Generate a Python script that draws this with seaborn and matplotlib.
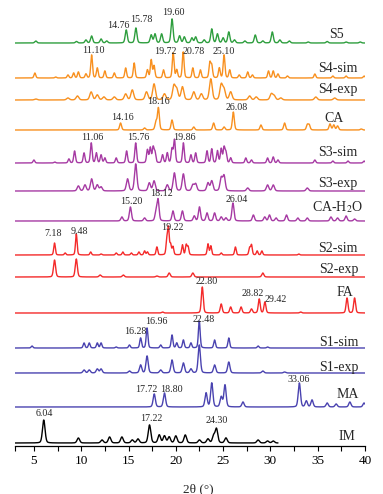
import numpy as np
import pandas as pd
import matplotlib
matplotlib.use("Agg")
import matplotlib.pyplot as plt
import seaborn as sns
from matplotlib.ticker import FixedLocator

# -----------------------------
# Peak lists: 2-theta (deg) and height
# -----------------------------
s5_pos = [5.2, 9.5, 10.5, 11.1, 12.1, 12.7, 14.76, 15.78, 17.4, 17.8, 18.5, 19.60, 20.4, 20.9, 21.7, 22.1,
          23.0, 23.8, 24.4, 25.0, 25.6, 26.2, 27.3, 28.4, 29.2, 30.2, 31.0, 32.0, 34.0, 36.0, 38.0, 39.5]
s5_int = [2, 1.5, 3, 7, 4, 2, 13, 15, 8, 9, 9, 24, 7, 6, 5, 6, 3, 14, 9, 5, 11, 3, 2, 8, 2, 11, 3, 2, 1, 1.5, 1, 1]

s4sim_pos = [5.1, 7.3, 8.6, 9.2, 9.7, 10.5, 11.10, 11.7, 12.5, 13.5, 14.7, 15.6, 17.0, 17.4, 17.7, 18.7, 19.72,
             20.1, 20.78, 21.8, 22.6, 23.6, 23.8, 24.6, 25.10, 25.7, 26.7, 27.6, 28.1, 29.8, 30.3, 30.8, 31.8,
             34.7, 36.6, 38.0, 39.9]
s4sim_int = [5, 1, 3, 5, 6, 4, 23, 10, 7, 5, 10, 15, 8, 18, 12, 8, 25, 8, 26, 10, 8, 15, 12, 10, 23, 8, 3, 6, 3,
             7, 7, 4, 2, 4, 2, 2, 2]

s4exp_pos = [5.2, 8.6, 9.6, 11.05, 11.7, 12.4, 13.5, 14.7, 15.4, 16.9, 17.7, 18.8, 19.8, 20.1, 20.7, 21.9, 22.7,
             23.7, 24.8, 25.1, 25.8, 27.8, 28.5, 30.1, 30.4, 31.1, 34.8, 36.8]
s4exp_int = [1, 2, 4, 8, 5, 3, 3, 6, 10, 8, 16, 6, 14, 10, 13, 8, 6, 21, 15, 10, 8, 4, 3, 6, 4, 2, 3, 2]

ca_pos = [14.16, 16.7, 17.9, 18.16, 19.6, 21.9, 24.0, 25.1, 26.08, 29.0, 31.5, 33.9, 34.1, 36.3, 36.7, 37.1, 39.6]
ca_int = [7, 2, 8, 22, 10, 3, 7, 3, 18, 5, 7, 5, 5, 6, 5, 4, 1]

s3sim_pos = [5.0, 7.2, 8.7, 9.3, 10.3, 11.06, 11.6, 12.1, 12.5, 13.7, 14.8, 15.76, 17.0, 17.3, 17.6, 17.8, 18.6,
             19.1, 19.6, 19.86, 20.8, 21.6, 22.1, 23.3, 23.8, 24.4, 24.8, 25.1, 25.3, 25.8, 27.4, 28.0, 29.7,
             30.3, 30.8, 34.7, 36.6, 38.2, 39.9]
s3sim_int = [3, 1, 4, 12, 10, 20, 10, 8, 5, 5, 12, 20, 13, 15, 15, 10, 8, 10, 14, 23, 20, 8, 10, 12, 14, 12, 14,
             15, 10, 5, 5, 3, 5, 6, 3, 3, 2, 2, 2]

s3exp_pos = [9.7, 10.4, 11.1, 11.7, 12.1, 14.9, 15.76, 17.2, 17.7, 19.1, 19.85, 20.8, 21.8, 22.1, 23.4, 23.8,
             24.8, 25.1, 27.6, 29.7, 30.3, 33.9]
s3exp_int = [5, 6, 12, 6, 4, 12, 27, 8, 10, 6, 18, 17, 6, 7, 8, 10, 13, 15, 3, 6, 6, 3]

cah2o_pos = [14.3, 15.20, 16.7, 17.9, 18.12, 19.7, 20.7, 21.95, 22.5, 23.3, 24.1, 24.8, 25.3, 26.04, 28.2, 29.4,
             29.9, 30.6, 31.7, 32.9, 33.9, 36.4, 37.1, 38.0, 38.9]
cah2o_int = [4, 14, 3, 8, 21, 10, 10, 5, 14, 8, 8, 4, 3, 18, 6, 4, 6, 3, 6, 3, 3, 4, 3, 5, 2]

s2sim_pos = [7.18, 8.3, 9.48, 11.0, 12.1, 13.7, 14.4, 15.3, 16.1, 16.7, 17.0, 18.0, 19.05, 19.22, 19.45, 19.7,
             20.7, 21.1, 21.3, 23.4, 23.7, 24.8, 26.3, 27.8, 28.0, 28.6, 29.1, 33.0]
s2sim_int = [12, 2, 21, 3, 1, 2, 3, 2, 3, 4, 3, 8, 14, 26, 10, 8, 10, 10, 8, 11, 9, 2, 8, 7, 10, 4, 4, 1]

s2exp_pos = [7.18, 9.48, 12.0, 14.45, 18.0, 19.3, 21.8, 29.2]
s2exp_int = [17, 18, 2, 2, 1, 4, 4, 4]

fa_pos = [18.6, 22.80, 24.8, 25.8, 26.9, 28.0, 28.82, 29.42, 33.2, 38.1, 38.9]
fa_int = [1, 26, 9, 6, 6, 4, 14, 11, 1, 15, 15]

s1sim_pos = [4.8, 10.3, 10.85, 11.7, 12.1, 13.7, 15.1, 16.28, 16.96, 18.4, 19.6, 20.1, 20.8, 21.6, 22.48, 24.1,
             25.6, 28.7, 29.7]
s1sim_int = [2, 5, 5, 5, 5, 1, 3, 10, 20, 3, 13, 5, 8, 5, 27, 8, 10, 2, 1]

s1exp_pos = [10.3, 10.85, 11.7, 12.1, 15.1, 16.28, 16.96, 18.4, 19.6, 20.8, 21.6, 22.48, 24.1, 25.6, 29.2, 31.5]
s1exp_int = [3, 3, 4, 4, 2, 8, 17, 3, 13, 10, 4, 28, 8, 11, 2, 1]

ma_pos = [17.72, 18.80, 23.2, 23.8, 24.8, 25.2, 27.1, 33.06, 33.8, 34.4, 36.0, 36.95, 38.4, 39.9]
ma_int = [13, 14, 14, 24, 10, 22, 5, 24, 6, 7, 4, 3, 5, 4]

im_pos = [6.04, 9.7, 12.2, 13.0, 14.3, 15.4, 16.0, 17.22, 18.25, 18.8, 19.3, 20.0, 21.0, 22.5, 23.4, 24.0,
          24.30, 25.3, 28.7, 29.7, 30.3]
im_int = [23, 5, 3, 6, 6, 3, 4, 18, 8, 7, 6, 7, 8, 3, 4, 7, 14, 5, 3, 2, 2]

names = ["S5", "S4-sim", "S4-exp", "CA", "S3-sim", "S3-exp", "CA-H$_2$O",
         "S2-sim", "S2-exp", "FA", "S1-sim", "S1-exp", "MA", "IM"]
peaks = [(s5_pos, s5_int), (s4sim_pos, s4sim_int), (s4exp_pos, s4exp_int), (ca_pos, ca_int),
         (s3sim_pos, s3sim_int), (s3exp_pos, s3exp_int), (cah2o_pos, cah2o_int),
         (s2sim_pos, s2sim_int), (s2exp_pos, s2exp_int), (fa_pos, fa_int),
         (s1sim_pos, s1sim_int), (s1exp_pos, s1exp_int), (ma_pos, ma_int), (im_pos, im_int)]

# labelled peak values per pattern
marked = {
    "S5": [14.76, 15.78, 19.60],
    "S4-sim": [11.10, 19.72, 20.78, 25.10],
    "CA": [14.16, 18.16, 26.08],
    "S3-sim": [11.06, 15.76, 19.86],
    "CA-H$_2$O": [15.20, 18.12, 26.04],
    "S2-sim": [7.18, 9.48, 19.22],
    "FA": [22.80, 28.82, 29.42],
    "S1-sim": [16.28, 16.96, 22.48],
    "MA": [17.72, 18.80, 33.06],
    "IM": [6.04, 17.22, 24.30],
}

# -----------------------------
# Layout / style
# -----------------------------
green, orange, purple, red, blue = "#2e9e3e", "#f8901f", "#a63aa3", "#f42a2a", "#4a43b0"
colors = [green, orange, orange, orange, purple, purple, purple, red, red, red, blue, blue, blue, "black"]
baseline_px = [43, 78, 100, 130, 163, 191, 221, 255, 277, 313, 348, 373, 407, 443]
fwhm = [0.26, 0.22, 0.34, 0.24, 0.22, 0.3, 0.26, 0.2, 0.26, 0.24, 0.22, 0.28, 0.28, 0.32]
x_end = [40] * 13 + [30.8]
name_xy = [(37.0, 35), (37.1, 68), (37.1, 89), (36.7, 118), (37.1, 152), (37.1, 183), (37.1, 207),
           (37.1, 248), (37.25, 270), (37.9, 292), (37.2, 342), (37.2, 367), (38.2, 395), (38.1, 436)]
mark_xy = {
    "S5": [(13.9, 26), (16.4, 20), (19.7, 13)],
    "S4-sim": [(11.3, 51), (18.85, 52), (21.9, 52), (25.1, 52)],
    "CA": [(14.4, 117), (18.2, 102), (26.4, 107)],
    "S3-sim": [(11.2, 137), (16.0, 137), (20.9, 137)],
    "CA-H$_2$O": [(15.3, 202), (18.5, 194), (26.4, 199)],
    "S2-sim": [(7.06, 233), (9.85, 231), (19.6, 227)],
    "FA": [(23.3, 282), (28.1, 293), (30.6, 300)],
    "S1-sim": [(15.7, 332), (17.9, 322), (22.9, 320)],
    "MA": [(16.9, 389), (19.55, 389), (33.0, 380)],
    "IM": [(6.06, 413), (17.4, 418), (24.3, 420)],
}

sns.set_style("ticks")
plt.rcParams["font.family"] = ["Liberation Serif", "DejaVu Serif"]
plt.rcParams["mathtext.fontset"] = "stix"

W, H = 383, 494
AX_BOTTOM = 446
fig = plt.figure(figsize=(W / 100, H / 100), dpi=100)
ax = fig.add_axes([15 / W, (H - AX_BOTTOM) / H, 350 / W, AX_BOTTOM / H])


def pattern(x, pos, hgt, w):
    # pseudo-Voigt line shape for each listed peak
    y = np.zeros_like(x)
    s = w / 2.3548
    for p, h in zip(pos, hgt):
        g = np.exp(-0.5 * ((x - p) / s) ** 2)
        lo = 1 / (1 + ((x - p) / (w / 2)) ** 2)
        y += h * (0.75 * g + 0.25 * lo)
    return y


for i, name in enumerate(names):
    x = np.linspace(3, x_end[i], int((x_end[i] - 3) * 120) + 1)
    pos, hgt = peaks[i]
    off = AX_BOTTOM - baseline_px[i]
    df = pd.DataFrame({"x": x, "y": pattern(x, pos, hgt, fwhm[i]) + off})
    sns.lineplot(data=df, x="x", y="y", color=colors[i], lw=1.0, ax=ax,
                 estimator=None, sort=False)
    nx, ny = name_xy[i]
    ax.text(nx, AX_BOTTOM - ny, name, ha="center", va="center", fontsize=10)
    if name in marked:
        for v, (tx, ty) in zip(marked[name], mark_xy[name]):
            ax.text(tx, AX_BOTTOM - ty, f"{v:.2f}", ha="center", va="center", fontsize=7.2)

ax.set_xlim(3, 40)
ax.set_ylim(0, AX_BOTTOM)
ax.set_xticks([5, 10, 15, 20, 25, 30, 35, 40])
ax.xaxis.set_minor_locator(FixedLocator([3, 7.5, 12.5, 17.5, 22.5, 27.5, 32.5, 37.5]))
ax.tick_params(axis="x", which="both", direction="out", length=3.4, width=0.8,
               labelsize=9.5, pad=3, colors="black")
ax.set_yticks([])
ax.set_ylabel("")
ax.set_xlabel("2θ (°)", fontsize=9.5, labelpad=2)
ax.xaxis.set_label_coords((198 - 15) / 350, -(483 - AX_BOTTOM) / AX_BOTTOM)
for side in ["left", "top", "right"]:
    ax.spines[side].set_visible(False)
ax.spines["bottom"].set_linewidth(0.9)
ax.spines["bottom"].set_color("black")
ax.patch.set_alpha(0)

fig.savefig("out.png", dpi=100)
